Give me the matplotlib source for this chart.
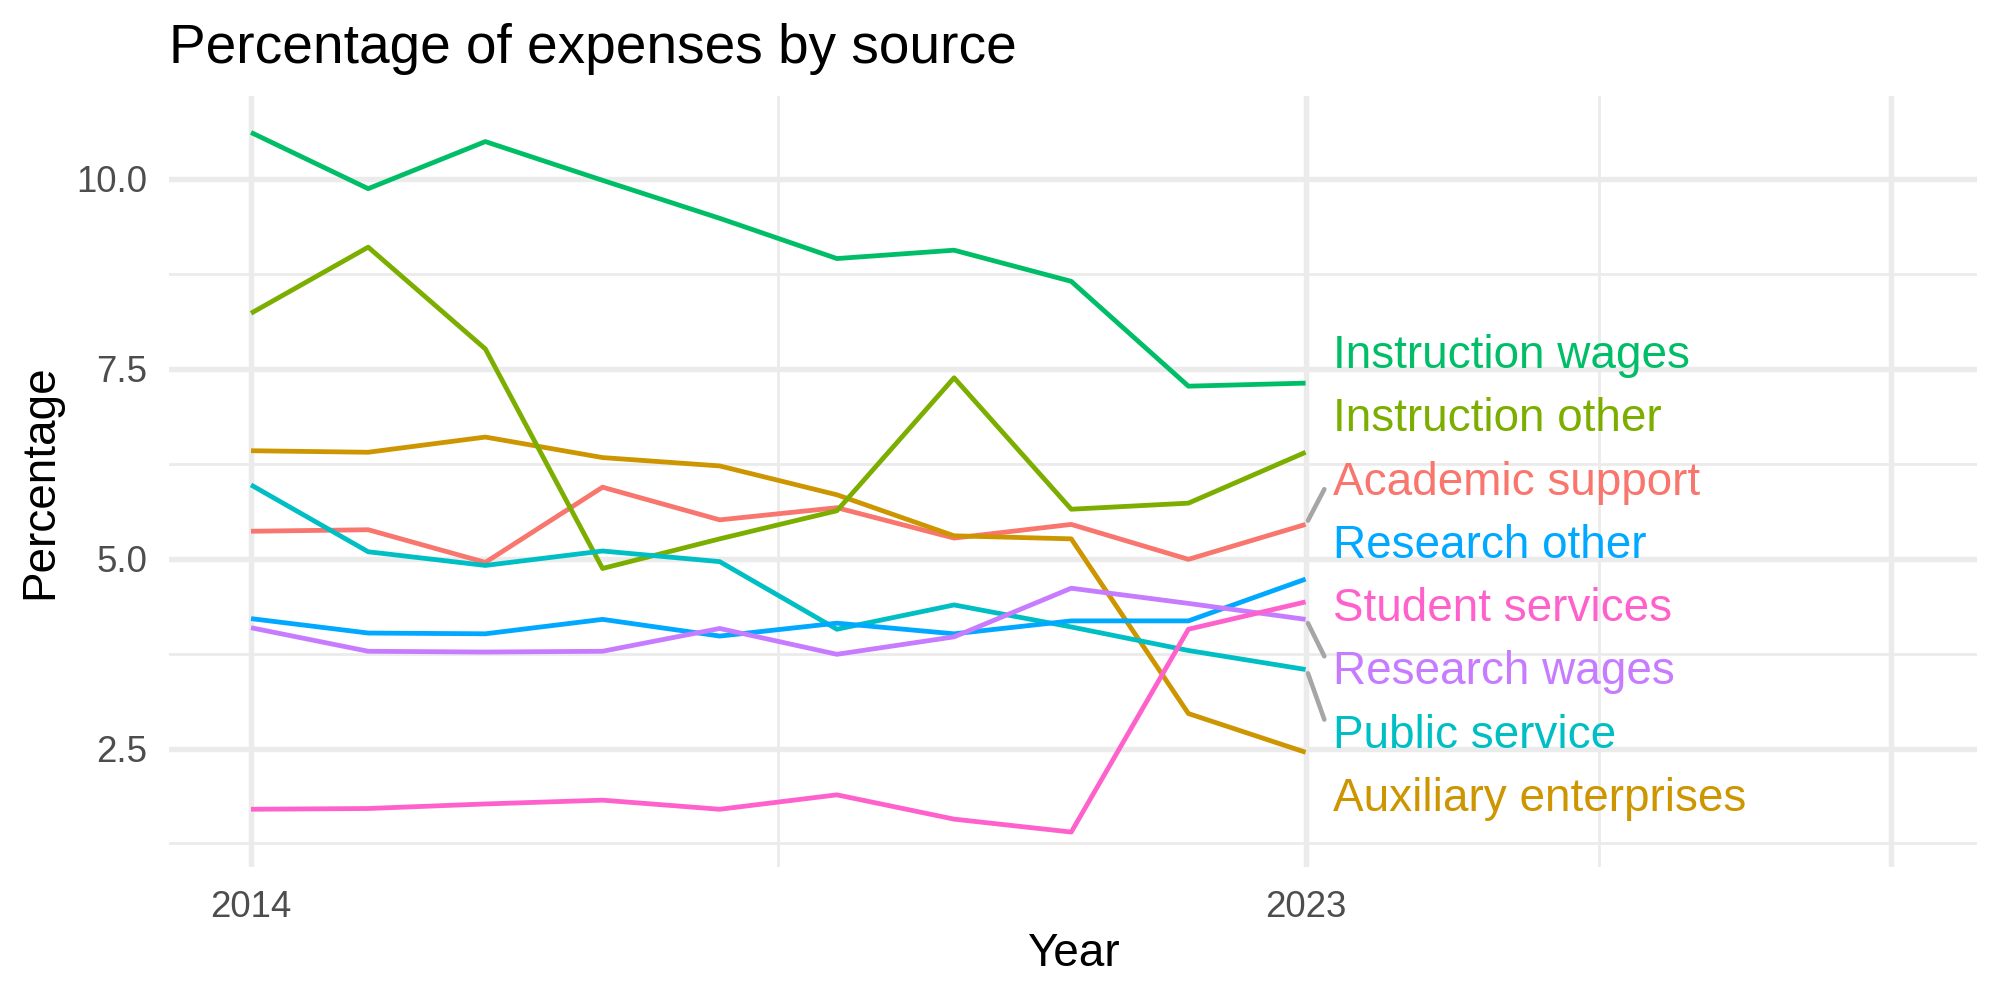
import numpy as np
import matplotlib
matplotlib.use("Agg")
import matplotlib.pyplot as plt

years = [2014, 2015, 2016, 2017, 2018, 2019, 2020, 2021, 2022, 2023]

academic_support = [5.36, 5.38, 4.95, 5.94, 5.51, 5.67, 5.27, 5.45, 4.99, 5.45]
auxiliary_enterprises = [6.42, 6.40, 6.60, 6.33, 6.22, 5.84, 5.30, 5.26, 2.96, 2.45]
instruction_other = [8.23, 9.10, 7.76, 4.87, 5.26, 5.63, 7.38, 5.65, 5.73, 6.40]
instruction_wages = [10.61, 9.87, 10.49, 9.98, 9.48, 8.95, 9.06, 8.65, 7.27, 7.31]
public_service = [5.97, 5.09, 4.91, 5.10, 4.96, 4.07, 4.39, 4.10, 3.79, 3.54]
research_other = [4.21, 4.02, 4.01, 4.20, 3.98, 4.15, 4.01, 4.18, 4.18, 4.73]
research_wages = [4.09, 3.78, 3.77, 3.78, 4.08, 3.74, 3.97, 4.61, 4.41, 4.20]
student_services = [1.70, 1.71, 1.77, 1.82, 1.70, 1.89, 1.57, 1.40, 4.07, 4.43]

sources = ["Academic support", "Auxiliary enterprises", "Instruction other",
           "Instruction wages", "Public service", "Research other",
           "Research wages", "Student services"]
values = [academic_support, auxiliary_enterprises, instruction_other,
          instruction_wages, public_service, research_other,
          research_wages, student_services]
colors = ["#F8766D", "#CD9600", "#7CAE00", "#00BE67",
          "#00BFC4", "#00A9FF", "#C77CFF", "#FF61CC"]

plt.rcParams["font.family"] = ["Liberation Sans", "DejaVu Sans"]

fig = plt.figure(figsize=(20 / 3, 10 / 3), dpi=300)
ax = fig.add_axes([0.0845, 0.133, 0.904, 0.771])

for name, v, c in zip(sources, values, colors):
    ax.plot(years, v, color=c, lw=1.15, solid_capstyle="butt", zorder=3)

# labels at the right, spread evenly around the mean of the last values
last = [v[-1] for v in values]
order = np.argsort(last)[::-1]
step = 0.833
centre = np.mean(last)
n = len(order)
label_y = {}
for rank, i in enumerate(order):
    label_y[i] = centre + step * ((n - 1) / 2 - rank)

x_end = years[-1]
for i in range(n):
    ly = label_y[i]
    ax.text(x_end + 0.23, ly - 0.22, sources[i], color=colors[i],
            fontsize=11, ha="left", va="baseline", zorder=4)
    d = ly - last[i]
    if abs(d) > 0.56:
        s = np.sign(d)
        ax.plot([x_end + 0.02, x_end + 0.16],
                [last[i] + s * 0.05, ly - s * 0.15],
                color="#A6A6A6", lw=1.1, solid_capstyle="round", zorder=2)

ax.set_xlim(2013.30, 2028.73)
ax.set_ylim(0.94, 11.09)

ax.set_xticks([2014, 2023, 2028])
ax.set_xticklabels(["2014", "2023", ""])
ax.set_xticks([2018.5, 2025.5], minor=True)
ax.set_yticks([2.5, 5.0, 7.5, 10.0])
ax.set_yticklabels(["2.5", "5.0", "7.5", "10.0"])
ax.set_yticks([1.25, 3.75, 6.25, 8.75], minor=True)

ax.grid(which="major", color="#EBEBEB", lw=1.3)
ax.grid(which="minor", color="#EBEBEB", lw=0.65)
ax.set_axisbelow(True)
for sp in ax.spines.values():
    sp.set_visible(False)
ax.tick_params(which="both", length=0)
ax.tick_params(axis="x", pad=5.5, labelsize=8.8, labelcolor="#4D4D4D")
ax.tick_params(axis="y", pad=5.3, labelsize=8.8, labelcolor="#4D4D4D")

ax.set_xlabel("Year", fontsize=11, labelpad=1.8)
ax.set_ylabel("Percentage", fontsize=11, labelpad=3.3)
fig.text(0.0845, 0.937, "Percentage of expenses by source", fontsize=13.2,
         ha="left", va="baseline")

fig.savefig("out.png", dpi=300, facecolor="white")
